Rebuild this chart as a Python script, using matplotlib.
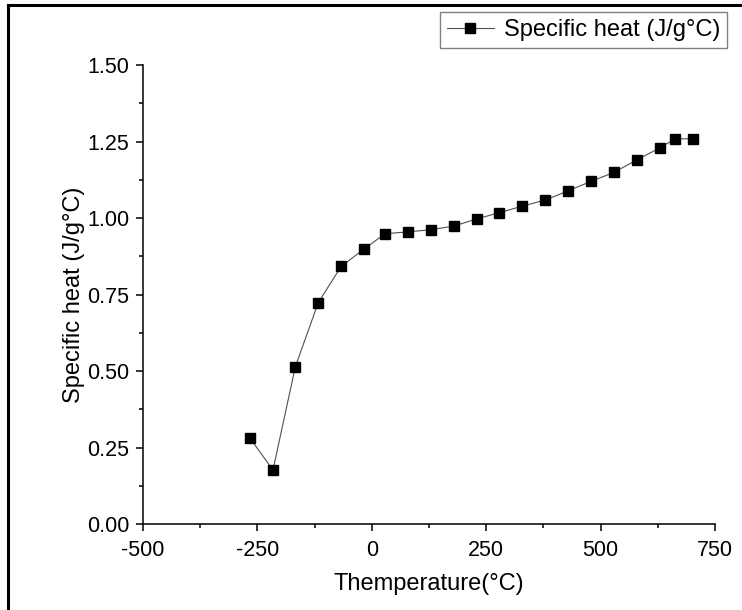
import matplotlib
matplotlib.use("Agg")
import matplotlib.pyplot as plt
from matplotlib.lines import Line2D
from matplotlib.ticker import MultipleLocator

plt.rcParams['font.family'] = ['Liberation Sans', 'DejaVu Sans']
plt.rcParams['axes.unicode_minus'] = False

# temperature (ºC) and specific heat (J/gºC)
temperature = [-266, -216, -167, -117, -67, -17, 29, 79, 129, 179, 229,
               279, 329, 379, 429, 479, 529, 579, 629, 663, 701]
specific_heat = [0.281, 0.177, 0.515, 0.724, 0.842, 0.899, 0.949, 0.955,
                 0.962, 0.974, 0.997, 1.018, 1.039, 1.059, 1.089, 1.120,
                 1.149, 1.190, 1.229, 1.259, 1.259]

fig = plt.figure(figsize=(7.42, 6.10), dpi=100)
ax = fig.add_axes([143 / 742, 1 - 524.3 / 610, (715 - 143) / 742, (524.3 - 65) / 610])

ax.plot(temperature, specific_heat, 's-', color='#505050', linewidth=0.8,
        markersize=7.5, markerfacecolor='black', markeredgecolor='black',
        label='Specific heat (J/g°C)')

ax.set_xlim(-500, 750)
ax.set_ylim(0, 1.5)
ax.xaxis.set_major_locator(MultipleLocator(250))
ax.xaxis.set_minor_locator(MultipleLocator(125))
ax.yaxis.set_major_locator(MultipleLocator(0.25))
ax.yaxis.set_minor_locator(MultipleLocator(0.125))
ax.yaxis.set_major_formatter(lambda v, p: f'{v:.2f}')

for side in ['top', 'right']:
    ax.spines[side].set_visible(False)
for side in ['left', 'bottom']:
    ax.spines[side].set_linewidth(1.1)
ax.tick_params(which='major', direction='out', length=5, width=1.1, labelsize=15.5)
ax.tick_params(which='minor', direction='out', length=3, width=1.1)
ax.tick_params(axis='x', which='major', pad=6)
ax.tick_params(axis='y', which='major', pad=5)

ax.set_xlabel('Themperature(°C)', fontsize=17, labelpad=9)
ax.set_ylabel('Specific heat (J/g°C)', fontsize=17, labelpad=1)

fig.legend(loc='upper right', bbox_to_anchor=(727 / 742, 1 - 12 / 610),
           fontsize=17, fancybox=False, edgecolor='#808080', framealpha=1,
           handlelength=2.0, borderpad=0.3, handletextpad=0.4,
           borderaxespad=0)

# outer frame (top and left edges only)
fig.add_artist(Line2D([8 / 742, 8 / 742], [0, 1 - 5 / 610], color='black',
                      linewidth=2.2, transform=fig.transFigure))
fig.add_artist(Line2D([8 / 742, 1], [1 - 5 / 610, 1 - 5 / 610], color='black',
                      linewidth=2.2, transform=fig.transFigure))

fig.savefig('out.png', dpi=100)
